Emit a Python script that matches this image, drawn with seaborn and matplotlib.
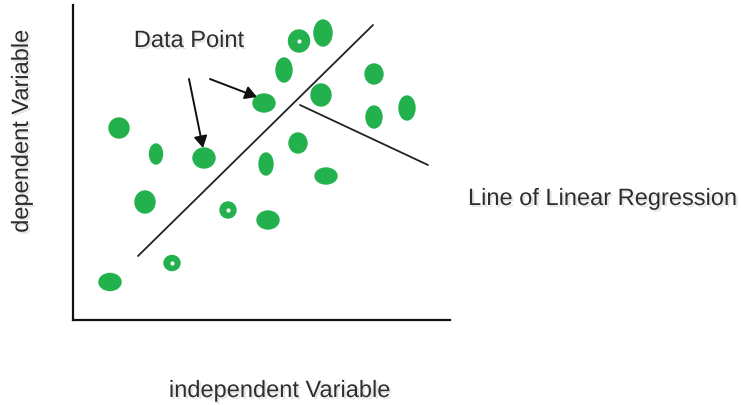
import matplotlib
matplotlib.use("Agg")
import matplotlib.pyplot as plt
import matplotlib.patheffects as pe
from matplotlib.patches import Ellipse
import seaborn as sns
import numpy as np
import pandas as pd

# data points: centre x, centre y, width, height (axis units, 1 unit ~ 1 px)
point_x = [37, 46, 83, 72, 131, 99, 155, 195, 193, 191, 211, 226, 250, 225, 248, 253, 301, 301, 334]
point_y = [38, 192, 166, 118, 162, 57, 110, 100, 156, 217, 250, 279, 287, 177, 225, 144, 246, 203, 212]
point_w = [22, 20, 13, 20, 22, 16, 16, 22, 14, 22, 16, 21, 18, 18, 20, 22, 18, 16, 16]
point_h = [17, 20, 20, 22, 20, 15, 16, 18, 22, 18, 24, 22, 26, 20, 22, 16, 20, 22, 24]
has_hole = [False, False, False, False, False, True, True, False, False, False,
            False, True, False, False, False, False, False, False, False]

# regression line ends
reg_x = [65, 300]
reg_y = [64, 295]

# pointer line to the label
pointer_x = [227, 355]
pointer_y = [215, 155]

green = "#22b14c"
text_color = "#2e2e2e"

sns.set_style("white")
plt.rcParams["font.family"] = ["Liberation Sans", "DejaVu Sans"]

fig = plt.figure(figsize=(7.41, 4.05), dpi=100)
ax = fig.add_axes([73 / 741, 85 / 405, 377 / 741, 315 / 405])
ax.set_xlim(0, 377)
ax.set_ylim(0, 315)
ax.set_xticks([])
ax.set_yticks([])
sns.despine(ax=ax)
for side in ["left", "bottom"]:
    ax.spines[side].set_color("#111111")
    ax.spines[side].set_linewidth(1.6)

df = pd.DataFrame({"x": point_x, "y": point_y, "w": point_w, "h": point_h, "hole": has_hole})
for _, row in df.iterrows():
    ax.add_patch(Ellipse((row["x"], row["y"]), row["w"], row["h"], color=green, clip_on=False, zorder=3))
holes = df[df["hole"]]
ax.scatter(holes["x"], holes["y"], s=9, color="white", zorder=4, linewidths=0)

sns.lineplot(x=reg_x, y=reg_y, ax=ax, color="#222222", linewidth=1.3)
ax.plot(pointer_x, pointer_y, color="#222222", linewidth=1.3, clip_on=False)

arrow = dict(arrowstyle="-|>,head_length=0.7,head_width=0.4", color="#111111", lw=1.4,
             shrinkA=0, shrinkB=0)
ax.annotate("", xy=(130, 172), xytext=(116, 241), arrowprops=arrow)
ax.annotate("", xy=(184, 223), xytext=(137, 241), arrowprops=arrow)

shadow = [pe.withSimplePatchShadow(offset=(1.5, -1.5), shadow_rgbFace="#999999", alpha=0.25)]
ax.text(116, 273, "Data Point", fontsize=17, color=text_color, ha="center", va="baseline",
        path_effects=shadow)
ax.text(395, 115, "Line of Linear Regression", fontsize=17, color=text_color,
        ha="left", va="baseline", clip_on=False, path_effects=shadow)
fig.text(280 / 741, 1 - 397 / 405, "independent Variable", fontsize=17, color=text_color,
         ha="center", va="baseline", path_effects=shadow)
fig.text(22 / 741, 1 - 131 / 405, "dependent Variable", fontsize=17, color=text_color,
         ha="center", va="center", rotation=90, path_effects=shadow)

fig.savefig("out.png", dpi=100)
